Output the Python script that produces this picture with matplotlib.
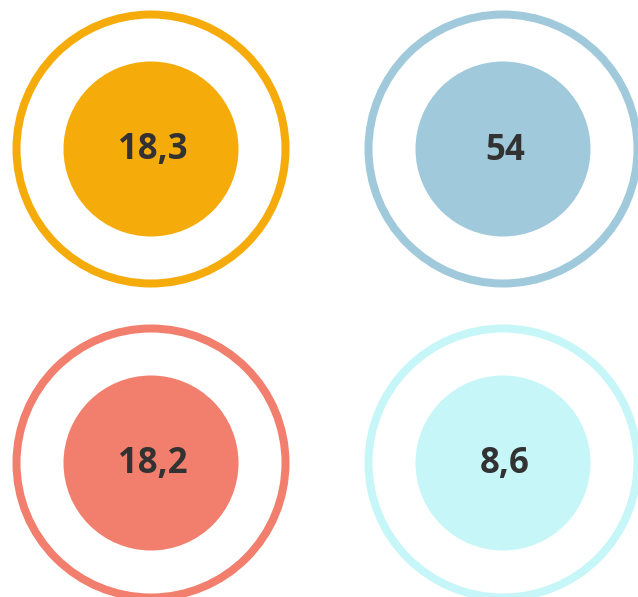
"""Four ringed value badges."""

import matplotlib
matplotlib.use("Agg")
import matplotlib.pyplot as plt
from matplotlib.patches import Circle

# ── Data ──
labels = ["18,3", "54", "18,2", "8,6"]
colors = ["#F5AB09", "#A0C9DB", "#F27F6D", "#C6F6F7"]

# ── Layout (pixel space) ──
W, H = 638, 597
col_x = [151, 503]
row_y = [149, 463]
R_OUT = 134.5     # centre line of the ring stroke
RING_W = 8
R_IN = 87.5
TEXT_DROP = 10.5  # baseline sits a little below circle centre

fig = plt.figure(figsize=(W / 100, H / 100), dpi=100)
ax = fig.add_axes([0, 0, 1, 1])
ax.set_xlim(0, W)
ax.set_ylim(H, 0)
ax.set_aspect("equal")
ax.axis("off")
fig.patch.set_facecolor("white")

for i, (lab, col) in enumerate(zip(labels, colors)):
    cx = col_x[i % 2]
    cy = row_y[i // 2]
    # outer ring
    ax.add_patch(Circle((cx, cy), R_OUT, facecolor="none", edgecolor=col,
                        linewidth=RING_W * 72 / 100))
    # inner disc
    ax.add_patch(Circle((cx, cy), R_IN, facecolor=col, edgecolor="none"))
    ax.text(cx + 2, cy + TEXT_DROP, lab, ha="center", va="baseline",
            fontsize=25, fontweight="bold", color="#323232",
            family=["Open Sans", "DejaVu Sans"])

fig.savefig("out.png", dpi=100, facecolor="white")
plt.close(fig)
